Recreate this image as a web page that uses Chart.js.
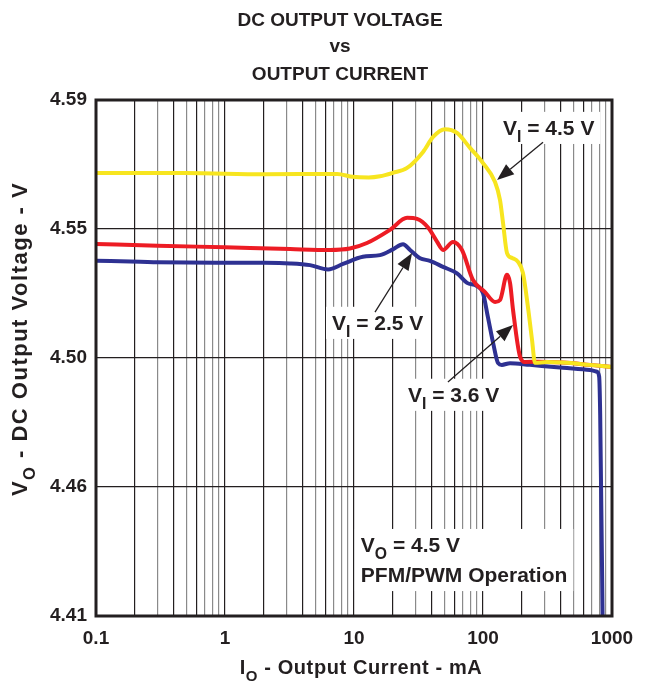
<!DOCTYPE html>
<html>
<head>
<meta charset="utf-8">
<script src="https://cdn.jsdelivr.net/npm/chart.js@4.4.0/dist/chart.umd.min.js"></script>
<style>
  html, body { margin: 0; padding: 0; background: #fff; }
  #wrap { width: 653px; height: 686px; position: relative; }
</style>
</head>
<body>
<div id="wrap"><canvas id="chart"></canvas></div>
<script>
// DC output voltage vs output current (log current axis, mA / V)

// --- data ---
const yellowI = [0.1, 0.5, 2.0, 7.4, 9.8, 13, 15.9, 20, 25.8, 34.3, 41, 50.7, 62.9, 79.3, 100, 124, 135.5, 143, 153.5, 168, 187, 204, 222, 240, 253, 313, 417, 675, 1000];
const yellowV = [4.5645, 4.5645, 4.5641, 4.5642, 4.5632, 4.5630, 4.5634, 4.5646, 4.5663, 4.5719, 4.5771, 4.5798, 4.5785, 4.5733, 4.5680, 4.5614, 4.5551, 4.5471, 4.5366, 4.5349, 4.5335, 4.5297, 4.5185, 4.5063, 4.4983, 4.4986, 4.4984, 4.4976, 4.4969];

const redI = [0.1, 0.3, 1.0, 3.2, 6.5, 9.3, 12.6, 19, 25.8, 30.8, 37.5, 44, 49, 58.5, 68.7, 83.6, 103.7, 124, 135.5, 153.5, 162, 171, 193.6, 212, 267, 417, 675, 1000];
const redV = [4.5398, 4.5392, 4.5386, 4.5380, 4.5377, 4.5382, 4.5401, 4.5447, 4.5489, 4.5485, 4.5455, 4.5406, 4.5377, 4.5405, 4.5377, 4.5272, 4.5230, 4.5195, 4.5202, 4.5290, 4.5262, 4.5167, 4.5005, 4.4986, 4.4987, 4.4984, 4.4976, 4.4969];

const blueI = [0.1, 0.22, 0.3, 1.77, 3.19, 4.56, 6.29, 8.22, 11.7, 15.9, 20, 24, 27.2, 32.5, 38.8, 49, 62.9, 75.2, 89.8, 100, 109, 120, 131, 140, 162, 231, 417, 675, 765, 795, 810, 850];
const blueV = [4.5339, 4.5336, 4.5334, 4.5332, 4.5330, 4.5324, 4.5309, 4.5328, 4.5353, 4.5359, 4.5379, 4.5397, 4.5377, 4.5348, 4.5339, 4.5318, 4.5295, 4.5262, 4.5251, 4.5226, 4.5144, 4.5051, 4.4982, 4.4976, 4.4982, 4.4976, 4.4966, 4.4958, 4.4952, 4.4935, 4.4800, 4.4000];

// the printed y labels are evenly spaced but not evenly valued
const yTickValues = [4.41, 4.455, 4.5, 4.545, 4.59];
const yTickLabels = ['4.41', '4.46', '4.50', '4.55', '4.59'];
const xDecades = [0.1, 1, 10, 100, 1000];
const xTickLabels = ['0.1', '1', '10', '100', '1000'];

const titleLines = ['DC OUTPUT VOLTAGE', 'vs', 'OUTPUT CURRENT'];

// --- helpers ---
function pts(xs, ys) {
  return xs.map((x, i) => ({ x: x, y: ys[i] }));
}

const FONT = '"Liberation Sans", Arial, sans-serif';

// text made of [text, isSub] parts
function richWidth(ctx, parts, size) {
  let w = 0;
  parts.forEach(p => {
    ctx.font = 'bold ' + (p[1] ? size * 0.75 : size) + 'px ' + FONT;
    w += ctx.measureText(p[0]).width;
  });
  return w;
}
function drawRich(ctx, parts, x, y, size, align) {
  const w = richWidth(ctx, parts, size);
  let cx = align === 'center' ? x - w / 2 : x;
  ctx.textAlign = 'left';
  ctx.textBaseline = 'alphabetic';
  parts.forEach(p => {
    const s = p[1] ? size * 0.75 : size;
    ctx.font = 'bold ' + s + 'px ' + FONT;
    ctx.fillText(p[0], cx, p[1] ? y + size * 0.35 : y);
    cx += ctx.measureText(p[0]).width;
  });
  return w;
}

// --- annotations (positions in data units) ---
const notes = [
  { lines: [[['V'], ['I', 1], [' = 4.5 V']]], at: [143, 4.5778] },
  { lines: [[['V'], ['I', 1], [' = 2.5 V']]], at: [6.75, 4.5098] },
  { lines: [[['V'], ['I', 1], [' = 3.6 V']]], at: [26.2, 4.4847] },
  { lines: [[['V'], ['O', 1], [' = 4.5 V']], [['PFM/PWM Operation']]], at: [11.3, 4.4323], lineGap: 30 }
];
const arrows = [
  { from: [292, 4.5753], to: [128.5, 4.5621] },
  { from: [14.55, 4.5160], to: [28.2, 4.5366] },
  { from: [53.5, 4.4916], to: [171, 4.5115] }
];
const NOTE_SIZE = 21;

function noteBox(ctx, chart, n) {
  const x = chart.scales.x.getPixelForValue(n.at[0]);
  const y = chart.scales.y.getPixelForValue(n.at[1]);
  let w = 0;
  n.lines.forEach(l => { w = Math.max(w, richWidth(ctx, l, NOTE_SIZE)); });
  const h = (n.lines.length - 1) * (n.lineGap || 0);
  return { x: x, y: y, left: x - 6, top: y - NOTE_SIZE * 0.72 - 8, w: w + 12, h: NOTE_SIZE * 0.72 + h + 17 };
}

const notesPlugin = {
  id: 'notes',
  beforeDatasetsDraw(chart) {
    const ctx = chart.ctx;
    ctx.save();
    ctx.fillStyle = '#fff';
    notes.forEach(n => {
      const b = noteBox(ctx, chart, n);
      ctx.fillRect(b.left, b.top, b.w, b.h);
    });
    ctx.restore();
  },
  afterDatasetsDraw(chart) {
    const ctx = chart.ctx;
    const sx = chart.scales.x, sy = chart.scales.y;
    ctx.save();
    ctx.fillStyle = '#231f20';
    notes.forEach(n => {
      const b = noteBox(ctx, chart, n);
      n.lines.forEach((l, i) => drawRich(ctx, l, b.x, b.y + i * (n.lineGap || 0), NOTE_SIZE, 'left'));
    });
    // arrows
    ctx.strokeStyle = '#231f20';
    ctx.lineWidth = 1.3;
    arrows.forEach(a => {
      const x0 = sx.getPixelForValue(a.from[0]), y0 = sy.getPixelForValue(a.from[1]);
      const x1 = sx.getPixelForValue(a.to[0]), y1 = sy.getPixelForValue(a.to[1]);
      const ang = Math.atan2(y1 - y0, x1 - x0);
      const len = 17, half = 6.5;
      const bx = x1 - Math.cos(ang) * len, by = y1 - Math.sin(ang) * len;
      ctx.beginPath();
      ctx.moveTo(x0, y0);
      ctx.lineTo(bx, by);
      ctx.stroke();
      ctx.beginPath();
      ctx.moveTo(x1, y1);
      ctx.lineTo(bx - Math.sin(ang) * half, by + Math.cos(ang) * half);
      ctx.lineTo(bx + Math.sin(ang) * half, by - Math.cos(ang) * half);
      ctx.closePath();
      ctx.fill();
    });
    ctx.restore();
  },
  afterDraw(chart) {
    const ctx = chart.ctx;
    const a = chart.chartArea;
    ctx.save();
    // frame
    ctx.strokeStyle = '#231f20';
    ctx.lineWidth = 3;
    ctx.strokeRect(a.left, a.top, a.right - a.left, a.bottom - a.top);
    ctx.fillStyle = '#231f20';
    // title
    const tx = 340;
    drawRich(ctx, [[titleLines[0]]], tx, 26, 19, 'center');
    drawRich(ctx, [[titleLines[1]]], tx, 52, 19, 'center');
    drawRich(ctx, [[titleLines[2]]], tx, 80, 19, 'center');
    // x axis title
    ctx.letterSpacing = '0.6px';
    drawRich(ctx, [['I'], ['O', 1], [' - Output Current - mA']], 361, 674, 20, 'center');
    // y axis title
    ctx.translate(27, 339);
    ctx.rotate(-Math.PI / 2);
    ctx.letterSpacing = '1.5px';
    drawRich(ctx, [['V'], ['O', 1], [' - DC Output Voltage - V']], 0, 0, 22, 'center');
    ctx.restore();
  }
};

// --- chart ---
const xTicks = [];
xDecades.slice(0, -1).forEach(d => {
  for (let m = 1; m <= 9; m++) xTicks.push(m * d);
});
xTicks.push(xDecades[xDecades.length - 1]);

function isDecade(v) {
  const l = Math.log10(v);
  return Math.abs(l - Math.round(l)) < 1e-6;
}

new Chart(document.getElementById('chart'), {
  type: 'line',
  data: {
    datasets: [
      { label: 'VI = 4.5 V', data: pts(yellowI, yellowV), borderColor: '#f7e51f' },
      { label: 'VI = 3.6 V', data: pts(redI, redV), borderColor: '#ed1c24' },
      { label: 'VI = 2.5 V', data: pts(blueI, blueV), borderColor: '#2e3192' }
    ].map(d => Object.assign(d, {
      borderWidth: 4,
      pointRadius: 0,
      fill: false,
      cubicInterpolationMode: 'monotone'
    }))
  },
  options: {
    responsive: true,
    maintainAspectRatio: false,
    animation: false,
    layout: { padding: { top: 100, right: 41, left: 0, bottom: 0 } },
    plugins: { legend: { display: false }, tooltip: { enabled: false } },
    scales: {
      x: {
        type: 'logarithmic',
        min: 0.1,
        max: 1000,
        afterBuildTicks: s => { s.ticks = xTicks.map(v => ({ value: v })); },
        afterFit: s => { s.height = 70; },
        border: { display: false },
        grid: {
          drawTicks: false,
          lineWidth: 1.2,
          color: c => {
            const v = c.tick ? c.tick.value : 1;
            if (isDecade(v)) return '#231f20';
            const m = Math.round(v / Math.pow(10, Math.floor(Math.log10(v) + 1e-9)));
            return [2, 4, 6].includes(m) ? '#231f20' : '#8a8a8a';
          }
        },
        ticks: {
          autoSkip: false,
          maxRotation: 0,
          padding: 11,
          color: '#231f20',
          font: { family: FONT, size: 19, weight: 'bold' },
          callback: v => isDecade(v) ? xTickLabels[xDecades.findIndex(d => Math.abs(d - v) < d * 1e-6)] : ''
        }
      },
      y: {
        min: 4.41,
        max: 4.59,
        afterBuildTicks: s => { s.ticks = yTickValues.map(v => ({ value: v })); },
        afterFit: s => { s.width = 96; },
        border: { display: false },
        grid: { drawTicks: false, lineWidth: 1.3, color: '#231f20' },
        ticks: {
          padding: 9,
          color: '#231f20',
          font: { family: FONT, size: 19, weight: 'bold' },
          callback: (v, i) => yTickLabels[i]
        }
      }
    }
  },
  plugins: [notesPlugin]
});
</script>
</body>
</html>
